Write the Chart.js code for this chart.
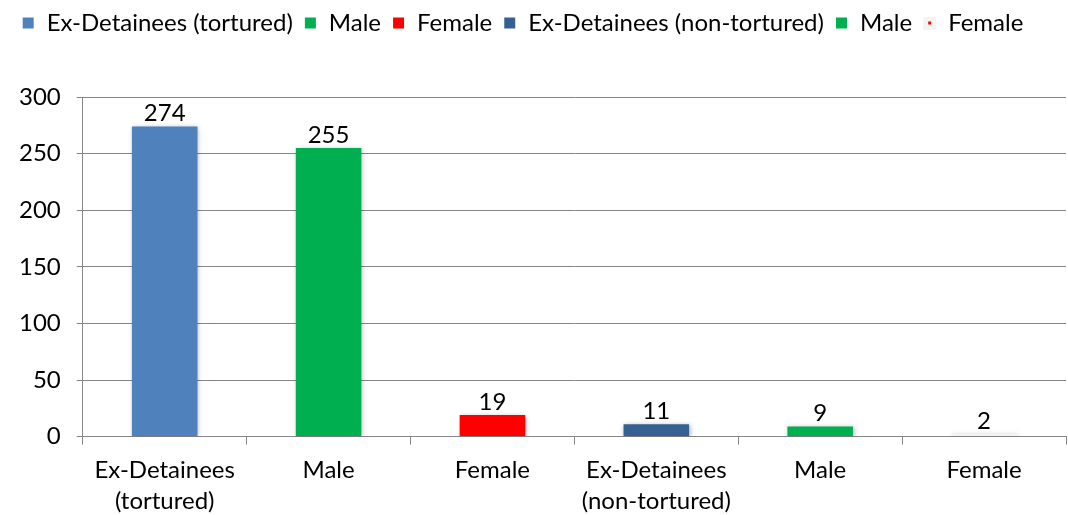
<!DOCTYPE html>
<html><head><meta charset="utf-8">
<script src="https://cdn.jsdelivr.net/npm/chart.js@4/dist/chart.umd.min.js"></script>
<style>html,body{margin:0;padding:0;background:#fff}#wrap{width:1068px;height:515px}</style>
</head><body><div id="wrap"><canvas id="c" width="1068" height="515"></canvas></div>
<script>
const categories = [["Ex-Detainees","(tortured)"],["Male"],["Female"],["Ex-Detainees","(non-tortured)"],["Male"],["Female"]];
const legendLabels = ["Ex-Detainees (tortured)","Male","Female","Ex-Detainees (non-tortured)","Male","Female"];
const values = [274,255,19,11,9,2];
const barColors = ["#4F81BD","#00B050","#FF0000","#376092","#00B050","#F4F4F4"];
const yTicks = [0,50,100,150,200,250,300];

const FONT = "Lato, 'Open Sans', sans-serif";
const FS = 24;

function marker(color, special){
  const c=document.createElement('canvas');c.width=13;c.height=13;
  const x=c.getContext('2d');
  if(special){x.fillStyle='#f4f4f4';x.fillRect(0,0,13,13);x.fillStyle='#FF0000';x.fillRect(5,5,3,3);}
  else{x.fillStyle=color;x.fillRect(1,1,11,11);}
  return c;
}

const shadowPlugin={id:'shadow',
 beforeDatasetDraw(chart){const ctx=chart.ctx;ctx.save();ctx.shadowColor='rgba(0,0,0,0.35)';ctx.shadowBlur=5;ctx.shadowOffsetX=1;ctx.shadowOffsetY=1;},
 afterDatasetDraw(chart){chart.ctx.restore();}};
const labelPlugin={id:'vlabels',afterDatasetsDraw(chart){
 const ctx=chart.ctx;const meta=chart.getDatasetMeta(0);
 ctx.save();ctx.fillStyle='#000';ctx.font=FS+"px "+FONT;ctx.textAlign='center';ctx.textBaseline='bottom';
 meta.data.forEach((b,i)=>{ctx.fillText(String(values[i]),b.x,b.y-1);});
 ctx.restore();}};
const legendSpace={id:'legendSpace',
 beforeInit(chart){const orig=chart.legend.fit;chart.legend.fit=function(){orig.bind(chart.legend)();this.height+=52;};},
 afterLayout(chart){chart.legend.right-=24;}};

new Chart(document.getElementById('c'),{
 type:'bar',
 data:{labels:categories,datasets:[{data:values,backgroundColor:barColors,borderWidth:0,categoryPercentage:1,barPercentage:0.4}]},
 options:{responsive:false,animation:false,
  layout:{padding:{left:3,right:2,top:0,bottom:-12}},
  plugins:{tooltip:{enabled:false},
   legend:{position:'top',align:'center',
    labels:{usePointStyle:true,font:{family:FONT,size:FS},color:'#000',padding:11,boxWidth:13,boxHeight:13,
     generateLabels(){return legendLabels.map((t,i)=>({text:t,fillStyle:barColors[i],strokeStyle:barColors[i],lineWidth:0,pointStyle:marker(barColors[i],i===5),hidden:false,index:i}));}}}},
  scales:{
   x:{grid:{offset:true,drawOnChartArea:false,color:'#868686',tickLength:8},border:{color:'#868686'},
      ticks:{font:{family:FONT,size:FS,lineHeight:1.3},color:'#000',maxRotation:0,padding:10}},
   y:{min:0,max:300,afterBuildTicks(ax){ax.ticks=yTicks.map(v=>({value:v}));},
      grid:{color:'#868686',tickLength:6},border:{color:'#868686'},
      ticks:{font:{family:FONT,size:FS},color:'#000',padding:16}}
  }},
 plugins:[shadowPlugin,labelPlugin,legendSpace]
});
</script></body></html>
